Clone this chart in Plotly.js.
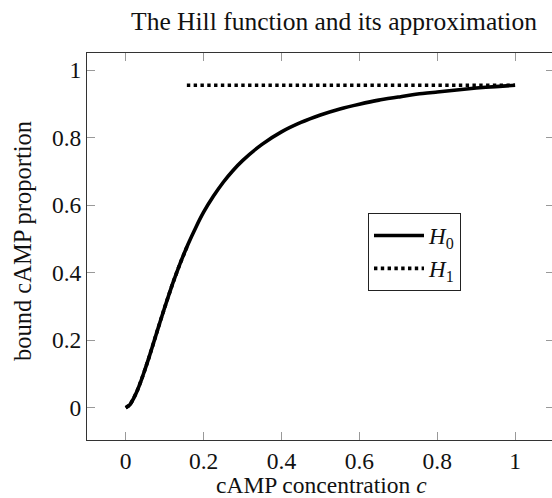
<!DOCTYPE html>
<html>
<head>
<meta charset="utf-8">
<script src="https://cdn.plot.ly/plotly-3.0.1.min.js"></script>
<style>
html,body{margin:0;padding:0;overflow:hidden;background:#fff;width:552px;height:498px;}
#chart{width:556px;height:498px;}
</style>
</head>
<body>
<div id="chart"></div>
<script>
// cAMP concentration samples
const conc = [0, 0.01, 0.02, 0.03, 0.04, 0.05, 0.06, 0.08, 0.10, 0.12, 0.14, 0.16, 0.18, 0.20, 0.225, 0.25, 0.275, 0.30, 0.35, 0.40, 0.45, 0.50, 0.55, 0.60, 0.65, 0.70, 0.75, 0.80, 0.85, 0.90, 0.95, 1.0];
// H0: bound cAMP proportion (Hill function)
const h0 = [0, 0.008, 0.027, 0.052, 0.082, 0.115, 0.150, 0.224, 0.297, 0.366, 0.428, 0.484, 0.534, 0.579, 0.626, 0.667, 0.702, 0.732, 0.780, 0.817, 0.845, 0.867, 0.885, 0.899, 0.911, 0.920, 0.929, 0.935, 0.941, 0.947, 0.951, 0.955];
// H1: approximation, follows H0 up to the switch point, then constant plateau
const h1LowConc = [0, 0.01, 0.02, 0.03, 0.04, 0.05, 0.06, 0.08, 0.10, 0.12, 0.14, 0.16];
const h1LowVal  = [0, 0.008, 0.027, 0.052, 0.082, 0.115, 0.150, 0.224, 0.297, 0.366, 0.428, 0.484];
const h1HighConc = [0.157, 1.0];
const h1HighVal  = [0.955, 0.955];
const xTicks = [0, 0.2, 0.4, 0.6, 0.8, 1];
const xTickText = ["0", "0.2", "0.4", "0.6", "0.8", "1"];
const yTicks = [0, 0.2, 0.4, 0.6, 0.8, 1];
const yTickText = ["0", "0.2", "0.4", "0.6", "0.8", "1"];
const xTitle = 'cAMP concentration <i>c</i>';
const yTitle = 'bound cAMP proportion';

const FONT = "Liberation Serif, Times New Roman, serif";
const FS = 23.5;
// plot area in pixels: left 87, width 467, top 53, height 387
const PL = 87, PW = 467, PT = 53, PH = 387;

const traces = [
  {x: conc, y: h0, mode: 'lines', name: '<i>H</i><sub>0</sub>',
   line: {color: '#000', width: 3.6, shape: 'spline', smoothing: 0.5}},
  {x: h1LowConc.concat([null]).concat(h1HighConc),
   y: h1LowVal.concat([null]).concat(h1HighVal),
   mode: 'lines', name: '<i>H</i><sub>1</sub>', connectgaps: false,
   line: {color: '#000', width: 3.6, dash: '3.4px,3.4px', shape: 'spline', smoothing: 0.5}}
];

const axisCommon = {
  showgrid: false, zeroline: false, showline: true, linecolor: '#333', linewidth: 1,
  mirror: 'ticks', ticks: 'inside', ticklen: 8, tickwidth: 1, tickcolor: '#999',
  tickfont: {family: FONT, size: FS, color: '#111'}
};

const layout = {
  width: 556, height: 498,
  margin: {l: PL, r: 556 - PL - PW, t: PT, b: 498 - PT - PH},
  paper_bgcolor: '#fff', plot_bgcolor: '#fff',
  font: {family: FONT, color: '#111'},
  title: {text: 'The Hill function and its approximation',
          font: {family: FONT, size: 25.5, color: '#111'},
          xref: 'container', yref: 'container', x: 334/556, xanchor: 'center', y: 1 - 21/498, yanchor: 'middle'},
  xaxis: Object.assign({}, axisCommon, {
    range: [-0.0995, 1.1], tickvals: xTicks, ticktext: xTickText
  }),
  yaxis: Object.assign({}, axisCommon, {
    range: [-0.0955, 1.0505], tickvals: yTicks, ticktext: yTickText
  }),
  annotations: [
    {text: xTitle, xref: 'paper', yref: 'paper', x: (321 - PL)/PW, y: -(484.5 - PT - PH)/PH,
     xanchor: 'center', yanchor: 'middle', showarrow: false,
     font: {family: FONT, size: 23.5, color: '#111'}},
    {text: yTitle, xref: 'paper', yref: 'paper', x: -(PL - 22)/PW, y: (PT + PH - 241)/PH,
     xanchor: 'center', yanchor: 'middle', showarrow: false, textangle: -90,
     font: {family: FONT, size: 24.5, color: '#111'}}
  ],
  showlegend: true,
  legend: {x: (368-PL)/PW, y: (PT+PH-213)/PH, xanchor: 'left', yanchor: 'top',
           bgcolor: '#fff', bordercolor: '#222', borderwidth: 1, itemwidth: 50,
           font: {family: FONT, size: 23, color: '#111'}, tracegroupgap: 0}
};

Plotly.newPlot('chart', traces, layout, {displayModeBar: false, staticPlot: true});
</script>
</body>
</html>
